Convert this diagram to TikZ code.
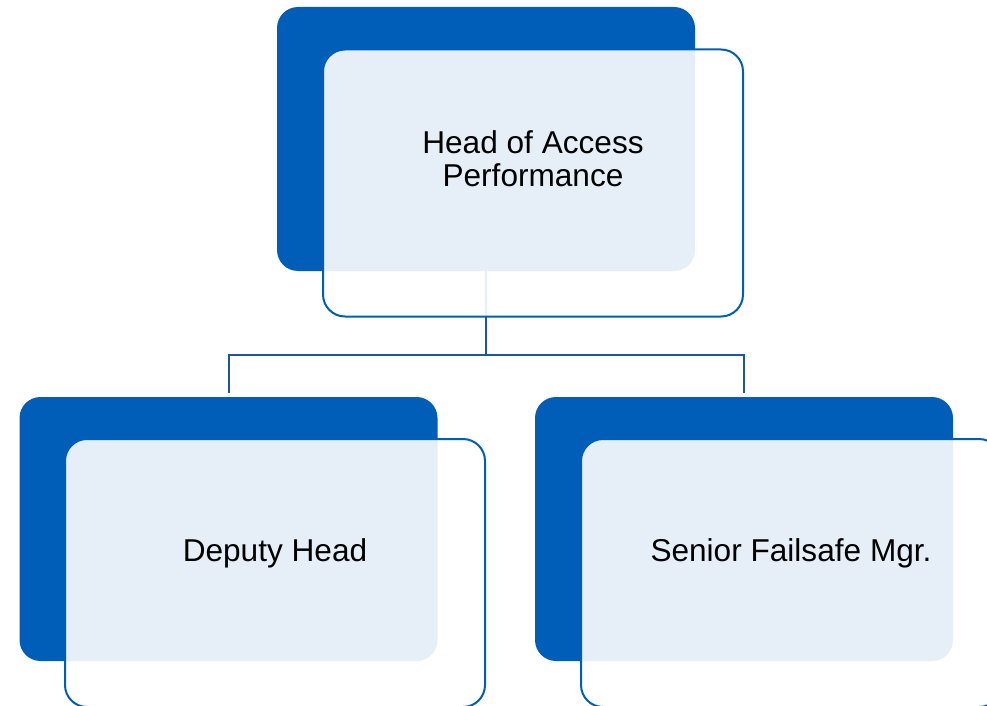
\documentclass[tikz,border=0pt]{standalone}
\usepackage{fontspec}
\setmainfont{Liberation Sans}
\definecolor{nhsblue}{HTML}{005EB8}
\definecolor{linkblue}{HTML}{1C55A0}
\begin{document}
\begin{tikzpicture}[x=1pt,y=-1pt,
  darkbox/.style={rectangle, rounded corners=21pt, fill=nhsblue, draw=none,
    minimum width=418pt, minimum height=264pt, inner sep=0pt},
  lightbox/.style={rectangle, rounded corners=22pt, fill=white, fill opacity=0.9,
    draw=nhsblue, draw opacity=1, line width=2pt,
    minimum width=420pt, minimum height=267pt, inner sep=0pt},
  label/.style={text=black, font=\fontsize{31.6}{33}\selectfont, align=center, inner sep=0pt},
  conn/.style={draw=linkblue, line width=2pt}]
\useasboundingbox (0,0) rectangle (987,706);
% dark back boxes
\node[darkbox] (d1) at (486,139) {};
\node[darkbox] (d2) at (228.5,529) {};
\node[darkbox] (d3) at (744,529) {};
% connectors
\coordinate (j) at (486,355);
\draw[conn] (d1.south) -- (j);
\draw[conn, shorten >=4pt] (j) -| (d2.north);
\draw[conn, shorten >=4pt] (j) -| (d3.north);
% light front boxes
\node[lightbox] (l1) at (533,183) {};
\node[lightbox, minimum height=268pt] (l2) at (275,573) {};
\node[lightbox, minimum height=268pt] (l3) at (791,573) {};
% texts
\node[label, anchor=center] (t1) at (533,159) {Head of Access\\Performance};
\node[label, anchor=base] (t2) at (275,561) {Deputy Head};
\node[label, anchor=base] (t3) at (791,561) {Senior Failsafe Mgr.};
\end{tikzpicture}
\end{document}
